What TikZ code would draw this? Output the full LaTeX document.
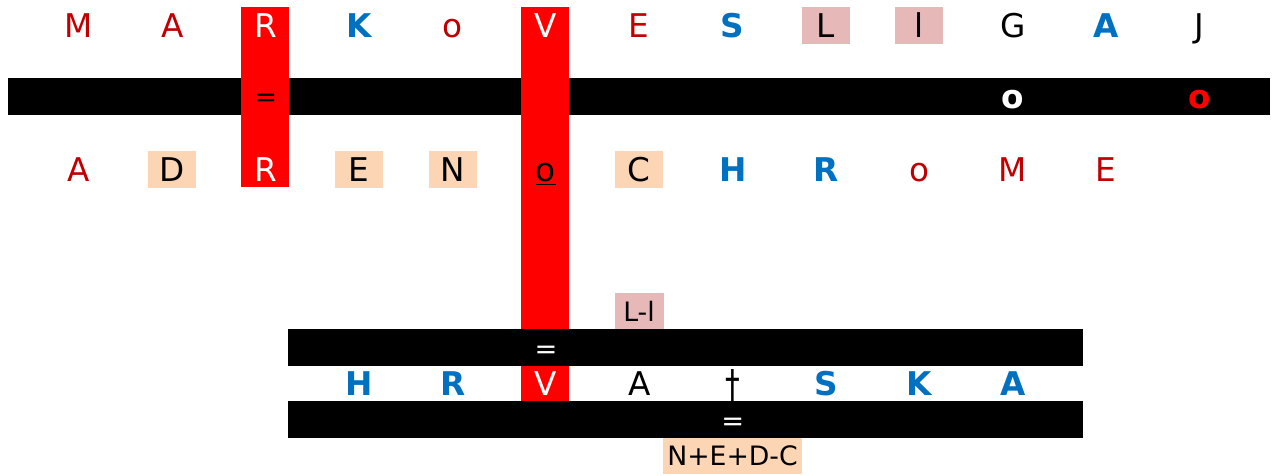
\documentclass[tikz,border=0pt]{standalone}
\usepackage{fontspec}
\setmainfont{DejaVu Sans}
\usepackage{tikz}
\usetikzlibrary{positioning}
\definecolor{darkred}{RGB}{192,0,0}
\definecolor{accentblue}{RGB}{0,112,192}
\definecolor{pinkhl}{RGB}{230,184,183}
\definecolor{peachhl}{RGB}{252,213,180}
\newcommand{\letterfont}{\fontsize{18.6}{21}\selectfont}
\newcommand{\smallletterfont}{\fontsize{15.2}{17}\selectfont}
\newcommand{\eqfont}{\fontsize{15.5}{17}\selectfont}

\begin{document}
\begin{tikzpicture}[
				x=0.02cm, y=-0.02cm,
				node distance=1.868cm, on grid,
				letter/.style={minimum width=0.96cm, minimum height=0.73cm, inner sep=0pt,
					text height=0.478cm, text depth=0pt, font=\letterfont},
				plain/.style={letter, text=black},
				dark/.style={letter, text=darkred},
				onred/.style={letter, text=white},
				boldblue/.style={letter, text=accentblue, font=\letterfont\bfseries},
				pinkbox/.style={letter, fill=pinkhl},
				peachbox/.style={letter, fill=peachhl},
				smallbox/.style={inner sep=0pt, minimum height=0.73cm, font=\smallletterfont},
				sign/.style={inner sep=0pt, font=\eqfont}
				]
				\useasboundingbox (0,0) rectangle (1275,476);

				% bands and red columns
				\fill[black] (8,78) rectangle (1270,115);
				\fill[red] (241,7) rectangle (289,187);
				\fill[red] (521,7) rectangle (569,401);
				\fill[black] (288,329) rectangle (1083,366);
				\fill[black] (288,401) rectangle (1083,438);

				% top row
				\node[dark] (topM) at (79,25.5) {M};
				\node[dark, right=of topM] (topA) {A};
				\node[onred, right=of topA] (topR) {R};
				\node[boldblue, right=of topR] (topK) {K};
				\node[dark, right=of topK] (topO) {o};
				\node[onred, right=of topO] (topV) {V};
				\node[dark, right=of topV] (topE) {E};
				\node[boldblue, right=of topE] (topS) {S};
				\node[pinkbox, right=of topS] (topL) {L};
				\node[pinkbox, right=of topL] (topl) {l};
				\node[plain, right=of topl] (topG) {G};
				\node[boldblue, right=of topG] (topA2) {A};
				\node[plain, right=of topA2] (topJ) {J};

				% first band
				\node[sign, text=black] (eqR) at (265.8,100) {=};
				\node[sign, text=white, font=\letterfont\bfseries, anchor=base] (oWhite) at (1013,109) {o};
				\node[sign, text=red, font=\letterfont\bfseries, anchor=base] (oRed) at (1199.8,109) {o};

				% bottom row
				\node[dark] (botA) at (79,169.5) {A};
				\node[peachbox, right=of botA] (botD) {D};
				\node[onred, right=of botD] (botR) {R};
				\node[peachbox, right=of botR] (botE) {E};
				\node[peachbox, right=of botE] (botN) {N};
				\node[plain, right=of botN] (botO) {\underline{o}};
				\node[peachbox, right=of botO] (botC) {C};
				\node[boldblue, right=of botC] (botH) {H};
				\node[boldblue, right=of botH] (botR2) {R};
				\node[dark, right=of botR2] (botO2) {o};
				\node[dark, right=of botO2] (botM) {M};
				\node[dark, right=of botM] (botE2) {E};

				% lower part
				\node[smallbox, fill=pinkhl, minimum width=0.98cm] (diffL) at (639,311) {L-l};
				\node[sign, text=white] (eqV) at (546,352) {=};
				\node[boldblue] (hrvH) at (359.2,384) {H};
				\node[boldblue, right=of hrvH] (hrvR) {R};
				\node[onred, right=of hrvR] (hrvV) {V};
				\node[plain, right=of hrvV] (hrvA) {A};
				\node[sign, text=black, font=\letterfont] (hrvCross) at (732.8,387) {\scalebox{0.9}[1.3]{†}};
				\node[boldblue] (hrvS) at (826.2,384) {S};
				\node[boldblue, right=of hrvS] (hrvK) {K};
				\node[boldblue, right=of hrvK] (hrvA2) {A};
				\node[sign, text=white] (eqCross) at (732.8,424) {=};
				\node[smallbox, fill=peachhl, minimum width=2.78cm] (sumN) at (732.5,456) {N+E+D-C};
			\end{tikzpicture}
\end{document}
